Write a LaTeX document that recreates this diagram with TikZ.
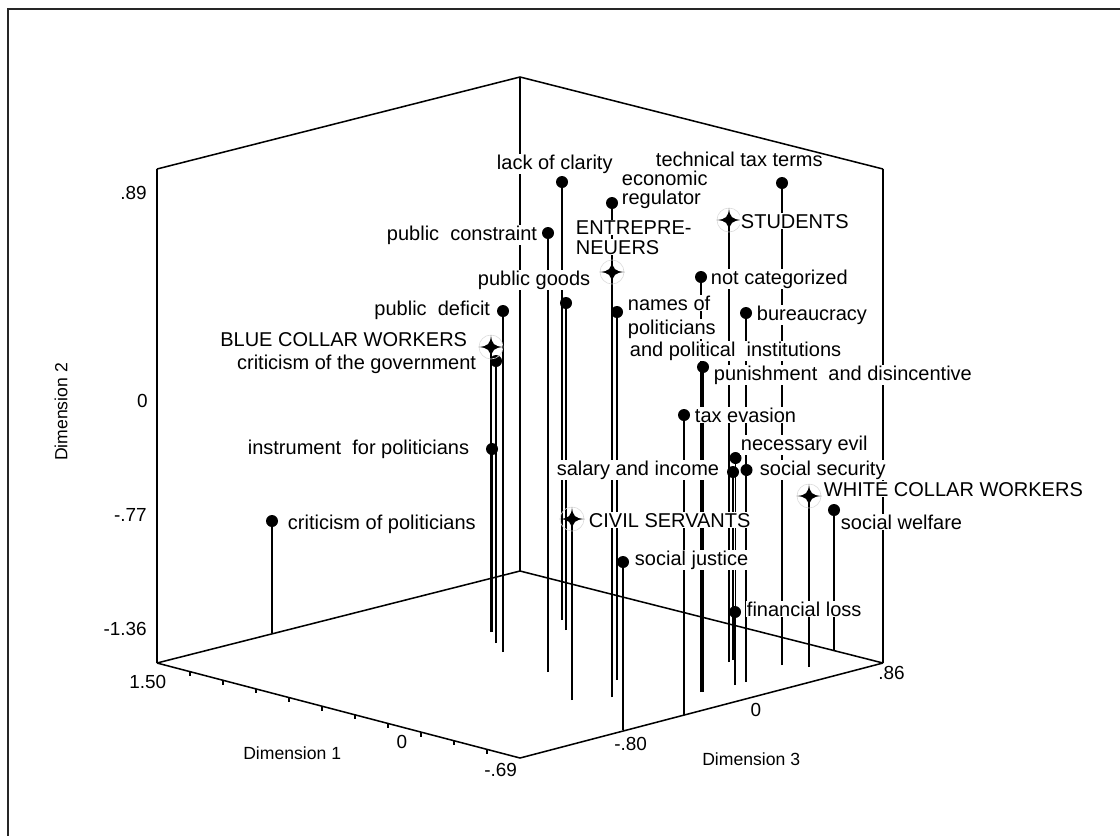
\documentclass[tikz,border=0pt]{standalone}
\usepackage{fontspec}
\setmainfont{Liberation Sans}
\usetikzlibrary{calc}
\begin{document}
\begin{tikzpicture}[x=0.75pt,y=-0.75pt,
  edge/.style={line width=1.15pt, black},
  frame/.style={line width=1.6pt, black!85},
  stem/.style={line width=0.95pt, black},
  gstem/.style={line width=1.9pt, black},
  dotm/.style={circle, fill=black, inner sep=0pt, minimum size=9pt},
  lbl/.style={fill=white, inner sep=0.5pt, font=\fontsize{15}{17}\selectfont},
  num/.style={inner sep=0pt, font=\fontsize{14.2}{17}\selectfont},
  ttl/.style={inner sep=0pt, font=\fontsize{13.2}{16}\selectfont},
  grpstar/.pic={
    \draw[black!14, line width=0.45pt] (0,0) circle (12);
    \fill (0,-12) .. controls (0.7,-3) and (3,-0.7) .. (12.5,0)
      .. controls (3,0.7) and (0.7,3) .. (0,12)
      .. controls (-0.7,3) and (-3,0.7) .. (-12.5,0)
      .. controls (-3,-0.7) and (-0.7,-3) .. (0,-12) -- cycle;
  }]
\useasboundingbox (0,0) rectangle (1120,836);

% outer frame
\draw[frame] (1120,9) -- (8,9) -- (8,836);

% corners of the cube
\coordinate (LT) at (157,169);
\coordinate (LB) at (157,663);
\coordinate (BT) at (520,77);
\coordinate (BB) at (520,571);
\coordinate (RT) at (883,169);
\coordinate (RB) at (883,663);
\coordinate (FB) at (520,758);

\draw[edge] (LT) -- (LB);
\draw[edge] (BT) -- (BB);
\draw[edge] (RT) -- (RB);
\draw[edge] (LB) -- (BB) -- (RB);
\draw[edge] (LB) -- (FB) -- (RB);

% ticks on dimension 1
\foreach \k in {1,...,10}
  \draw[line width=0.8pt] ($(LB)!\k/11!(FB)$) -- ++(0,4.5);

% stems: floor point (b) up to data point (t)
\foreach \n/\x/\yt/\yb in {
   cpol/272/521/633, inst/492/449/632, cgov/496/361/643, pdef/503/311/652,
   pcon/548/233/672, lack/562/182/620, pgoo/566/303/630, ereg/612/203/697,
   npol/617/312/680, sjus/623/562/730, tev/684/415/715, ncat/701/277/692,
   pun/703/367/692, nev/735.5/458/676, sal/733/472/660, floss/735/612/685,
   bur/746/313/682, ssec/746.5/470/682, ttt/782/183/665, swel/834/510/650}
{
  \coordinate (\n b) at (\x,\yb);
  \coordinate (\n) at (\x,\yt);
  \draw[stem] (\n b) -- (\n);
}
\foreach \n/\x/\yt/\yb in {
   blue/491/347/632, civ/572/519/700, entr/612/272/697,
   stud/729/220/662, white/809/496/667}
{
  \coordinate (\n b) at (\x,\yb);
  \coordinate (\n) at (\x,\yt);
  \draw[gstem] (\n b) -- (\n);
}

% data points
\foreach \n in {cpol,inst,cgov,pdef,pcon,lack,pgoo,ereg,npol,sjus,tev,ncat,
                pun,nev,sal,floss,bur,ssec,ttt,swel}
  \node[dotm] (\n d) at (\n) {};

% group points
\foreach \n in {blue,civ,entr,stud,white}
  \pic at (\n) {grpstar};

% labels of the points
\node[lbl, anchor=base west] (Llack) at (496,169) {lack of clarity};
\node[lbl, anchor=base west] (Lereg1) at (621,185) {economic};
\node[lbl, anchor=base west] (Lereg2) at (621,204) {regulator};
\node[lbl, anchor=base west] (Lttt) at (655,166) {technical tax terms};
\node[lbl, anchor=base east] (Lpcon) at (538,240) {public\ \ constraint};
\node[lbl, anchor=base west] (Lentr1) at (575,234) {ENTREPRE-};
\node[lbl, anchor=base west] (Lentr2) at (575,254) {NEUERS};
\node[lbl, anchor=base west] (Lstud) at (740,228) {STUDENTS};
\node[lbl, anchor=base west] (Lpgoo) at (477,285) {public goods};
\node[lbl, anchor=base west] (Lncat) at (710,284) {not categorized};
\node[lbl, anchor=base east] (Lpdef) at (491,315) {public\ \ deficit};
\node[lbl, anchor=base west] (Lnpol1) at (627,310) {names of};
\node[lbl, anchor=base west] (Lnpol2) at (627,334) {politicians};
\node[lbl, anchor=base west] (Lnpol3) at (629,356) {and political\ \ institutions};
\node[lbl, anchor=base west] (Lbur) at (756,320) {bureaucracy};
\node[lbl, anchor=base east] (Lblue) at (468,346) {BLUE COLLAR WORKERS};
\node[lbl, anchor=base east] (Lcgov) at (477,369) {criticism of the government};
\node[lbl, anchor=base west] (Lpun) at (713,380) {punishment\ \ and disincentive};
\node[lbl, anchor=base west] (Ltev) at (694,422) {tax evasion};
\node[lbl, anchor=base east] (Linst) at (470,454) {instrument\ \ for politicians};
\node[lbl, anchor=base west] (Lnev) at (740,450) {necessary evil};
\node[lbl, anchor=base east] (Lsal) at (720,475) {salary and income};
\node[lbl, anchor=base west] (Lssec) at (759,475) {social security};
\node[lbl, anchor=base west] (Lwhite) at (823,496) {WHITE COLLAR WORKERS};
\node[lbl, anchor=base west] (Lcpol) at (287,529) {criticism of politicians};
\node[lbl, anchor=base west] (Lciv) at (588,527) {CIVIL SERVANTS};
\node[lbl, anchor=base west] (Lswel) at (840,529) {social welfare};
\node[lbl, anchor=base west] (Lsjus) at (634,565) {social justice};
\node[lbl, anchor=base west] (Lfloss) at (746,616) {financial loss};

% top edges of the cube
\draw[edge] (LT) -- (BT) -- (RT);

% axis values
\node[num, anchor=base east] (v89) at (147,199) {.89};
\node[num, anchor=base east] (v0b) at (148,407) {0};
\node[num, anchor=base east] (v77) at (147,521) {-.77};
\node[num, anchor=base east] (v136) at (147,635) {-1.36};
\node[num, anchor=base west] (v150) at (129,688) {1.50};
\node[num, anchor=base] (v0a) at (402,748) {0};
\node[num, anchor=base west] (v69) at (484,776) {-.69};
\node[num, anchor=base west] (v80) at (614,750) {-.80};
\node[num, anchor=base] (v0c) at (756,716) {0};
\node[num, anchor=base west] (v86) at (878,679) {.86};

% axis titles
\node[ttl, anchor=base west] (t1) at (243,759) {Dimension 1};
\node[ttl, rotate=90] (t2) at (61,412) {Dimension 2};
\node[ttl, anchor=base west] (t3) at (702,765) {Dimension 3};
\end{tikzpicture}
\end{document}
